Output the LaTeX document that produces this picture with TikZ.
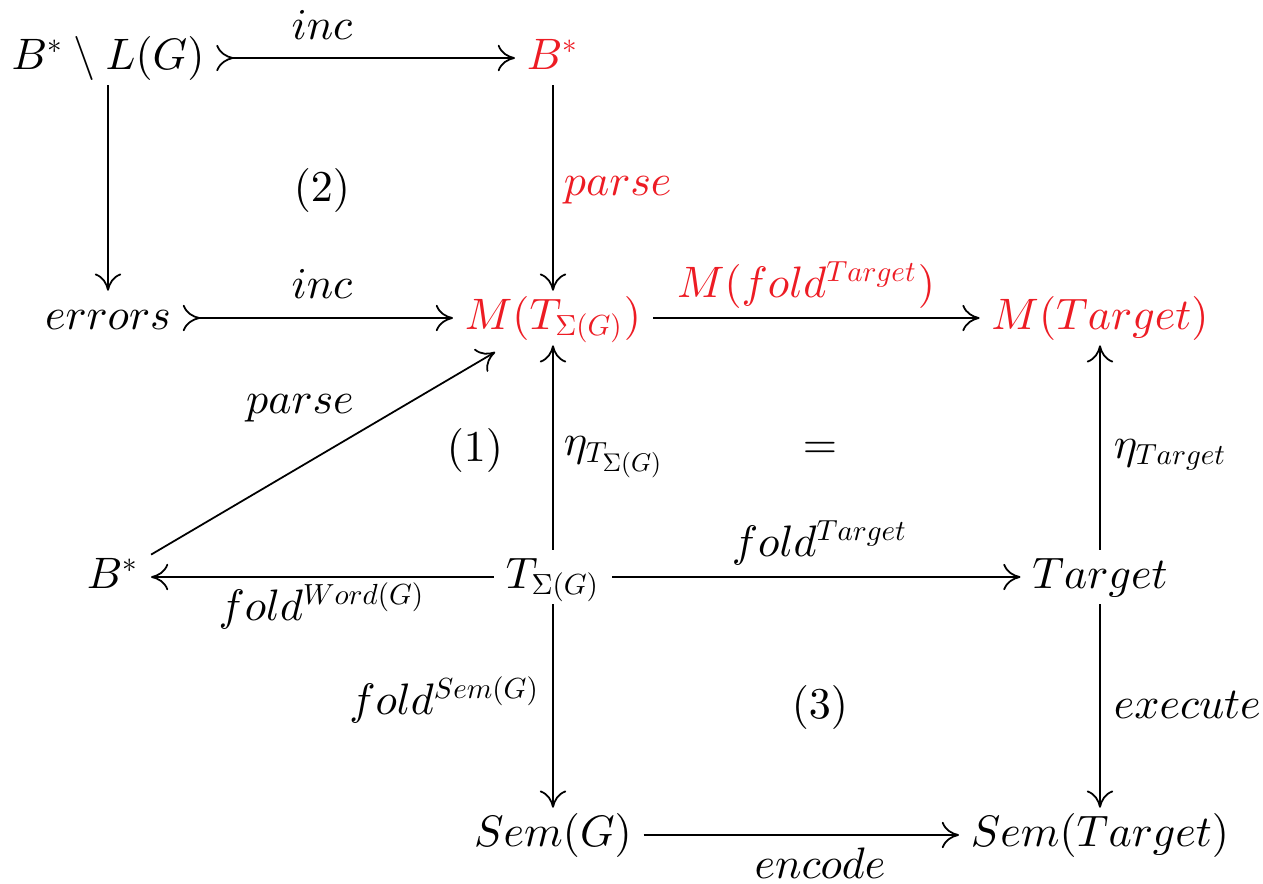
\documentclass[tikz,border=0pt]{standalone}
\usepackage{amsmath,amssymb}
\usetikzlibrary{arrows.meta}
\DeclareFontShape{OML}{cmm}{m}{it}{<-> cmmi10}{}
\DeclareFontShape{OT1}{cmr}{m}{n}{<-> cmr10}{}
\DeclareFontShape{OMS}{cmsy}{m}{n}{<-> cmsy10}{}
\DeclareMathSizes{10}{10}{6.6}{5.8}
\definecolor{myred}{RGB}{237,28,36}
\begin{document}
\begin{tikzpicture}[x=0.227pt,y=-0.227pt,
  every node/.style={inner sep=0pt},
  obj/.style={text height=0.7em,text depth=0.2em,inner xsep=2.5pt,inner ysep=1.5pt},
  hl/.style={text=myred},
  arr/.style={-{Computer Modern Rightarrow[length=3.9pt,width=6pt]}},
  mono/.style={{Computer Modern Rightarrow[length=3.9pt,width=6pt,reversed]}-{Computer Modern Rightarrow[length=3.9pt,width=6pt]}}]
\useasboundingbox (0,0) rectangle (1263,883);
% objects
\node[obj] (bl) at (108,58) {$B^*\setminus L(G)$};
\node[obj,hl] (b) at (553,58) {$B^*$};
\node[obj] (err) at (108,318) {$errors$};
\node[obj,hl] (mt) at (553,318) {$M(T_{\Sigma(G)})$};
\node[obj,hl] (mtar) at (1100,318) {$M(Target)$};
\node[obj] (b2) at (113,577) {$B^*$};
\node[obj] (t) at (553,577) {$T_{\Sigma(G)}$};
\node[obj] (tar) at (1100,577) {$Target$};
\node[obj] (sg) at (553,835) {$Sem(G)$};
\node[obj] (st) at (1100,835) {$Sem(Target)$};
% arrows
\draw[mono] (bl) -- (b);
\draw[arr] (b) -- (mt);
\draw[arr] (bl) -- (err);
\draw[mono] (err) -- (mt);
\draw[arr] (mt) -- (mtar);
\draw[arr,shorten >=3pt] (b2) -- (mt);
\draw[arr] (t) -- (mt);
\draw[arr] (t) -- (b2);
\draw[arr] (t) -- (tar);
\draw[arr] (tar) -- (mtar);
\draw[arr] (t) -- (sg);
\draw[arr] (tar) -- (st);
\draw[arr] (sg) -- (st);
% labels
\node (l1) at (322,25) {$inc$};
\node[hl,anchor=west] (l2) at (563,190) {$parse$};
\node (l3) at (322,284) {$inc$};
\node[hl] (l4) at (806,285) {$M(fold^{Target})$};
\node (l5) at (300,408) {$parse$};
\node[anchor=west] (l6) at (563,457) {$\eta_{T_{\Sigma(G)}}$};
\node[anchor=west] (l7) at (1113,455) {$\eta_{Target}$};
\node (l8) at (820,543) {$fold^{Target}$};
\node (l9) at (322,606) {$fold^{Word(G)}$};
\node[anchor=east] (l10) at (541,700) {$fold^{Sem(G)}$};
\node[anchor=west] (l11) at (1113,705) {$execute$};
\node (l12) at (820,863) {$encode$};
\node (c2) at (322,190) {$(2)$};
\node (c1) at (475,450) {$(1)$};
\node (ceq) at (820,450) {$=$};
\node (c3) at (820,707) {$(3)$};
\end{tikzpicture}
\end{document}
